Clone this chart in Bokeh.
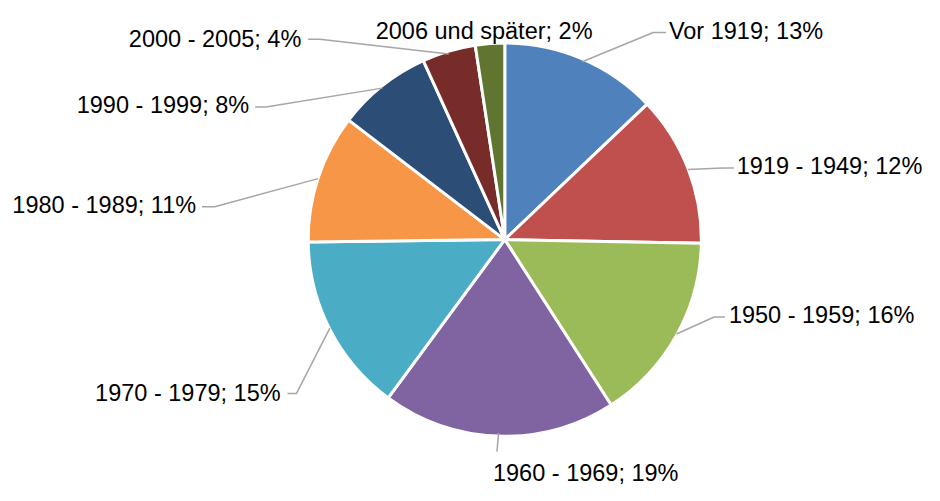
import math
from bokeh.plotting import figure
from bokeh.models import Range1d, ColumnDataSource
from bokeh.core.properties import value
from bokeh.embed import file_html
from bokeh.resources import INLINE

# ---- data ----
categories = ["Vor 1919", "1919 - 1949", "1950 - 1959", "1960 - 1969", "1970 - 1979",
              "1980 - 1989", "1990 - 1999", "2000 - 2005", "2006 und später"]
shares = [12.9, 12.4, 15.6, 19.2, 14.7, 10.6, 7.8, 4.4, 2.4]
colors = ["#4F81BD", "#C0504D", "#9BBB59", "#8064A2", "#4BACC6",
          "#F79646", "#2C4D75", "#772C2A", "#5F7530"]

# ---- layout (in reference-image pixel units, 940x501) ----
W, H = 940, 501
CX, CY, R = 513, 247, 200
# (elbow x, elbow y, end x, end y, text x, text baseline y, align) ; None = no leader
label_layout = [
    (664, 33, 677, 33, 680, 31, "left"),
    (735, 173, 746, 173, 749, 171, "left"),
    (726, 327, 737, 327, 741, 325, "left"),
    (505, 466, 505, 466, 501, 488, "left"),
    (301, 406, 292, 406, 285, 405, "right"),
    (218, 213, 205, 213, 199, 211, "right"),
    (270, 110, 259, 110, 253, 108, "right"),
    (325, 40, 313, 40, 306, 40, "right"),
    (None, None, None, None, 492, 31, "center"),
]

def sy(y):
    return H - y  # image y (down) -> data y (up)

p = figure(width=W - 16, height=H - 16, output_backend="svg", toolbar_location=None,
           x_range=Range1d(0, W), y_range=Range1d(0, H),
           min_border=0, outline_line_color=None)
p.axis.visible = False
p.grid.visible = False
p.background_fill_color = "white"
p.border_fill_color = "white"

total = sum(shares)
starts, ends, mids = [], [], []
a = 90.0
for s in shares:
    span = 360.0 * s / total
    hi, lo = a, a - span
    starts.append(math.radians(lo))
    ends.append(math.radians(hi))
    mids.append(math.radians((hi + lo) / 2))
    a = lo

src = ColumnDataSource(dict(start=starts, end=ends, color=colors))
p.wedge(x=CX, y=sy(CY), radius=R, start_angle="start", end_angle="end",
        fill_color="color", line_color="white", line_width=3, source=src)

# leader lines
for m, lay in zip(mids, label_layout):
    ex, ey, tx_, ty_, _, _, _ = lay
    if ex is None:
        continue
    x0 = CX + R * math.cos(m)
    y0 = sy(CY) + R * math.sin(m)
    p.line([x0, ex, tx_], [y0, sy(ey), sy(ty_)], line_color="#A6A6A6", line_width=1.5)

# labels
for cat, s, lay in zip(categories, shares, label_layout):
    _, _, _, _, lx, ly, al = lay
    txt = f"{cat}; {int(round(s))}%"
    p.text(x=[lx], y=[sy(ly)], text=[txt], text_align=al, text_baseline="alphabetic",
           text_font=value("Liberation Sans"), text_font_size="23.5px",
           text_color="#000000")

open("out.html", "w").write(file_html(p, INLINE))
